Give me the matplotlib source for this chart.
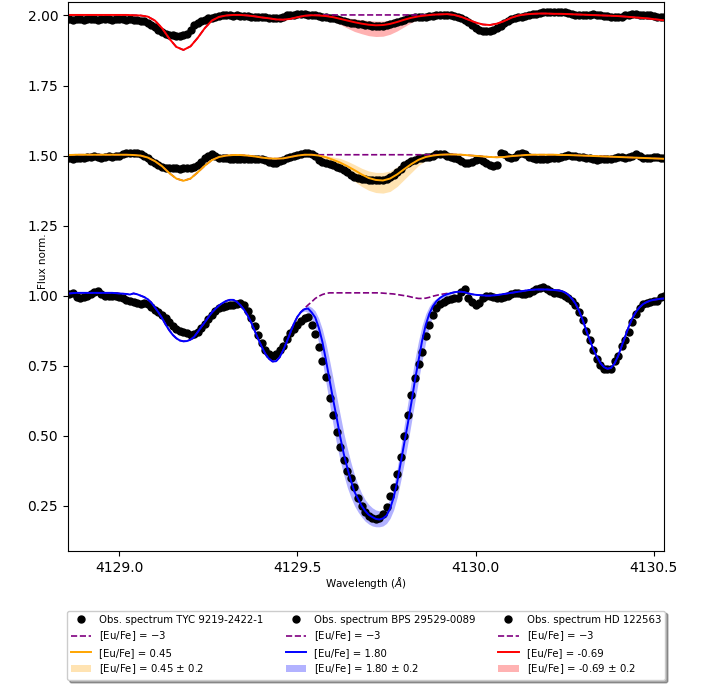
import numpy as np
import matplotlib
matplotlib.use('Agg')
import matplotlib.pyplot as plt

# wavelength grids (Angstrom)
wave_obs = np.round(4128.86 + 0.01 * np.arange(168), 2)
wave_mod = np.round(4128.86 + 0.02 * np.arange(85), 2)

# ---- BPS 29529-0089 (offset 0) ----
obs_bps = [1.005, 1.01, 0.995, 0.99, 0.995, 1.0, 1.005, 1.012, 1.015, 1.005,
           1.0, 0.998, 1.0, 1.0, 0.995, 0.99, 0.985, 0.98, 0.978, 0.975,
           0.972, 0.975, 0.97, 0.96, 0.95, 0.94, 0.93, 0.92, 0.905, 0.89,
           0.88, 0.875, 0.87, 0.865, 0.86, 0.862, 0.87, 0.885, 0.9, 0.915,
           0.93, 0.945, 0.955, 0.96, 0.962, 0.965, 0.968, 0.972, 0.975, 0.965,
           0.945, 0.92, 0.89, 0.86, 0.83, 0.805, 0.79, 0.785, 0.79, 0.805,
           0.822, 0.845, 0.865, 0.88, 0.895, 0.91, 0.922, 0.925, 0.895, 0.862,
           0.815, 0.767, 0.71, 0.635, 0.575, 0.515, 0.46, 0.415, 0.375, 0.35,
           0.317, 0.278, 0.25, 0.228, 0.215, 0.207, 0.202, 0.206, 0.22, 0.244,
           0.284, 0.318, 0.365, 0.425, 0.50, 0.575, 0.645, 0.705, 0.755, 0.80,
           0.855, 0.895, 0.932, 0.956, 0.97, 0.978, 0.984, 0.988, 0.99, 0.99,
           1.012, 1.022, 0.99, 0.978, 0.968, 0.975, 0.99, 1.0, 1.0, 0.995,
           0.99, 0.99, 0.995, 1.0, 1.005, 1.008, 1.01, 1.005, 1.005, 1.01,
           1.015, 1.022, 1.028, 1.03, 1.022, 1.015, 1.01, 1.008, 1.005, 1.0,
           0.99, 0.98, 0.965, 0.942, 0.912, 0.875, 0.84, 0.805, 0.775, 0.752,
           0.74, 0.737, 0.74, 0.765, 0.785, 0.82, 0.842, 0.872, 0.905, 0.935,
           0.955, 0.97, 0.975, 0.978, 0.98, 0.982, 0.995, 0.998]

mod_bps = [1.008, 1.009, 1.01, 1.01, 1.01, 1.01, 1.01, 1.01, 1.01, 1.01,
           1.01, 1.01, 1.01, 1.009, 1.008, 1.007, 1.006, 1.004, 1.008, 1.005,
           1.0, 0.995, 0.987, 0.975, 0.958, 0.94, 0.92, 0.897, 0.877, 0.86,
           0.848, 0.84, 0.837, 0.838, 0.843, 0.853, 0.87, 0.888, 0.905, 0.923,
           0.94, 0.953, 0.965, 0.974, 0.981, 0.985, 0.985, 0.978, 0.966, 0.95,
           0.93, 0.905, 0.875, 0.845, 0.817, 0.792, 0.775, 0.765, 0.766, 0.78,
           0.805, 0.835, 0.868, 0.9, 0.925, 0.942, 0.952, 0.954, 0.94, 0.922,
           0.885, 0.835, 0.77, 0.70, 0.63, 0.565, 0.496, 0.435, 0.385, 0.34,
           0.30, 0.275, 0.25, 0.232, 0.218, 0.21, 0.203, 0.201, 0.205, 0.215,
           0.24, 0.28, 0.335, 0.405, 0.475, 0.545, 0.62, 0.70, 0.77, 0.84,
           0.895, 0.935, 0.962, 0.98, 0.992, 1.0, 1.005, 1.009, 1.012, 1.014,
           1.014, 1.012, 1.008, 1.005, 1.003, 1.002, 1.001, 1.0, 1.0, 1.001,
           1.002, 1.004, 1.006, 1.008, 1.01, 1.012, 1.014, 1.016, 1.018, 1.02,
           1.021, 1.022, 1.022, 1.022, 1.022, 1.021, 1.02, 1.019, 1.017, 1.012,
           1.003, 0.99, 0.972, 0.947, 0.915, 0.878, 0.843, 0.81, 0.782, 0.76,
           0.745, 0.739, 0.742, 0.758, 0.785, 0.82, 0.856, 0.89, 0.92, 0.942,
           0.958, 0.97, 0.977, 0.982, 0.985, 0.987, 0.989, 0.99]

# [Eu/Fe] = -3 synthesis where it departs from the fit (obs-grid index 64..109)
noeu_bps = [0.925, 0.942, 0.955, 0.967, 0.978, 0.99, 0.998, 1.004, 1.008, 1.01,
            1.01, 1.01, 1.01, 1.01, 1.01, 1.01, 1.01, 1.01, 1.01, 1.01,
            1.01, 1.01, 1.01, 1.01, 1.009, 1.008, 1.007, 1.006, 1.004, 1.002,
            1.0, 0.998, 0.995, 0.992, 0.99, 0.99, 0.991, 0.994, 0.998, 1.001,
            1.004, 1.006, 1.008, 1.009, 1.012, 1.014]
band_bps_lo = [0.925, 0.94, 0.945, 0.94, 0.915, 0.88, 0.83, 0.765, 0.69, 0.615,
               0.54, 0.47, 0.41, 0.36, 0.315, 0.28, 0.25, 0.228, 0.21, 0.195,
               0.185, 0.178, 0.175, 0.175, 0.178, 0.187, 0.205, 0.235, 0.28, 0.34,
               0.405, 0.475, 0.55, 0.625, 0.70, 0.77, 0.835, 0.89, 0.93, 0.958,
               0.977, 0.99, 0.998, 1.005, 1.01, 1.014]
band_bps_hi = [0.925, 0.944, 0.958, 0.965, 0.958, 0.945, 0.918, 0.88, 0.83, 0.77,
               0.705, 0.64, 0.575, 0.51, 0.455, 0.405, 0.36, 0.325, 0.295, 0.272,
               0.255, 0.243, 0.235, 0.232, 0.236, 0.248, 0.275, 0.32, 0.385, 0.46,
               0.54, 0.62, 0.70, 0.775, 0.84, 0.895, 0.935, 0.962, 0.98, 0.99,
               0.998, 1.004, 1.008, 1.01, 1.012, 1.014]

# ---- TYC 9219-2422-1 (offset +0.5) ----
obs_tyc = [1.49, 1.488, 1.49, 1.492, 1.49, 1.495, 1.495, 1.497, 1.495, 1.493,
           1.495, 1.497, 1.495, 1.497, 1.5, 1.505, 1.508, 1.51, 1.508, 1.51,
           1.505, 1.5, 1.49, 1.48, 1.475, 1.465, 1.458, 1.455, 1.455, 1.457,
           1.455, 1.453, 1.455, 1.457, 1.455, 1.46, 1.468, 1.478, 1.49, 1.5,
           1.505, 1.5, 1.492, 1.49, 1.49, 1.488, 1.487, 1.487, 1.488, 1.487,
           1.487, 1.488, 1.487, 1.488, 1.487, 1.485, 1.478, 1.472, 1.475, 1.48,
           1.485, 1.492, 1.495, 1.5, 1.502, 1.505, 1.508, 1.508, 1.505, 1.5,
           1.485, 1.478, 1.473, 1.47, 1.466, 1.46, 1.455, 1.45, 1.443, 1.432,
           1.424, 1.42, 1.418, 1.416, 1.414, 1.413, 1.412, 1.412, 1.414, 1.418,
           1.424, 1.432, 1.443, 1.452, 1.465, 1.474, 1.48, 1.485, 1.49, 1.492,
           1.494, 1.496, 1.5, 1.505, 1.507, 1.505, 1.5, 1.495, 1.49, 1.488,
           1.482, 1.475, 1.472, 1.478, 1.485, 1.487, 1.48, 1.472, 1.468, 1.463,
           1.465, 1.508, 1.505, 1.495, 1.49, 1.495, 1.505, 1.51, 1.505, 1.495,
           1.49, 1.488, 1.487, 1.487, 1.488, 1.49, 1.49, 1.492, 1.496, 1.5,
           1.502, 1.5, 1.497, 1.495, 1.495, 1.492, 1.49, 1.487, 1.486, 1.487,
           1.487, 1.487, 1.488, 1.49, 1.495, 1.495, 1.492, 1.495, 1.5, 1.505,
           1.5, 1.492, 1.49, 1.492, 1.495, 1.495, 1.493, 1.493]

mod_tyc = [1.502, 1.503, 1.503, 1.503, 1.503, 1.503, 1.503, 1.503, 1.503, 1.502,
           1.5, 1.493, 1.48, 1.462, 1.438, 1.418, 1.41, 1.418, 1.44, 1.464,
           1.484, 1.495, 1.5, 1.502, 1.502, 1.5, 1.497, 1.493, 1.49, 1.489,
           1.49, 1.495, 1.5, 1.503, 1.503, 1.5, 1.494, 1.485, 1.475, 1.462,
           1.448, 1.433, 1.42, 1.413, 1.411, 1.418, 1.433, 1.452, 1.47, 1.485,
           1.495, 1.5, 1.503, 1.504, 1.504, 1.503, 1.501, 1.499, 1.497, 1.495,
           1.494, 1.495, 1.498, 1.5, 1.502, 1.503, 1.503, 1.503, 1.503, 1.502,
           1.502, 1.501, 1.5, 1.499, 1.498, 1.497, 1.496, 1.495, 1.494, 1.493,
           1.492, 1.491, 1.49, 1.489, 1.488]
# model-grid index 35..51
noeu_tyc = [1.503] * 17
# model-grid index 33..52
band_tyc_lo = [1.503, 1.5, 1.492, 1.48, 1.465, 1.448, 1.428, 1.408, 1.39, 1.376,
               1.368, 1.366, 1.372, 1.39, 1.415, 1.44, 1.465, 1.482, 1.495, 1.503]
band_tyc_hi = [1.503, 1.503, 1.503, 1.5, 1.495, 1.49, 1.48, 1.468, 1.455, 1.445,
               1.44, 1.44, 1.445, 1.46, 1.475, 1.487, 1.495, 1.5, 1.503, 1.503]

# ---- HD 122563 (offset +1.0) ----
obs_hd = [1.988, 1.985, 1.987, 1.986, 1.985, 1.987, 1.988, 1.986, 1.985, 1.986,
          1.987, 1.986, 1.985, 1.987, 1.988, 1.986, 1.985, 1.986, 1.985, 1.984,
          1.982, 1.98, 1.975, 1.965, 1.958, 1.95, 1.94, 1.935, 1.932, 1.93,
          1.928, 1.928, 1.93, 1.935, 1.95, 1.965, 1.975, 1.98, 1.983, 1.99,
          1.992, 1.995, 1.998, 2.0, 2.0, 2.0, 1.999, 2.0, 1.998, 1.998,
          1.997, 1.996, 1.995, 1.994, 1.994, 1.993, 1.992, 1.99, 1.99, 1.99,
          1.995, 2.0, 2.002, 2.003, 2.004, 2.005, 2.004, 2.003, 2.002, 2.0,
          1.998, 1.996, 1.994, 1.992, 1.99, 1.988, 1.985, 1.982, 1.978, 1.975,
          1.972, 1.97, 1.968, 1.966, 1.966, 1.964, 1.963, 1.962, 1.964, 1.966,
          1.97, 1.973, 1.977, 1.98, 1.985, 1.99, 1.992, 1.994, 1.995, 1.995,
          1.996, 1.997, 1.998, 2.0, 2.0, 2.0, 2.0, 2.0, 1.998, 1.995,
          1.99, 1.985, 1.978, 1.965, 1.954, 1.948, 1.946, 1.945, 1.946, 1.948,
          1.954, 1.962, 1.972, 1.98, 1.987, 1.99, 1.994, 1.996, 1.998, 2.0,
          2.004, 2.007, 2.01, 2.012, 2.014, 2.014, 2.013, 2.013, 2.014, 2.012,
          2.008, 2.004, 2.002, 2.0, 2.0, 2.0, 2.002, 2.004, 2.003, 2.0,
          1.998, 1.997, 1.995, 1.994, 1.994, 1.996, 2.0, 2.003, 2.004, 2.004,
          2.003, 2.002, 2.002, 2.0, 1.998, 1.996, 1.994, 1.993]

mod_hd = [2.002, 2.002, 2.002, 2.002, 2.002, 2.002, 2.002, 2.002, 2.002, 2.001,
          2.0, 1.996, 1.982, 1.955, 1.918, 1.888, 1.877, 1.89, 1.92, 1.955,
          1.982, 1.995, 2.0, 2.002, 2.002, 2.0, 1.997, 1.993, 1.99, 1.986,
          1.985, 1.988, 1.994, 1.999, 2.001, 2.0, 1.998, 1.994, 1.988, 1.982,
          1.976, 1.971, 1.967, 1.965, 1.966, 1.97, 1.977, 1.985, 1.992, 1.997,
          2.0, 2.003, 2.004, 2.005, 2.002, 1.995, 1.985, 1.975, 1.968, 1.966,
          1.971, 1.98, 1.992, 2.0, 2.004, 2.006, 2.007, 2.007, 2.006, 2.006,
          2.005, 2.004, 2.003, 2.002, 2.001, 2.0, 1.999, 1.998, 1.996, 1.994,
          1.992, 1.99, 1.987, 1.984, 1.982]
# model-grid index 35..50
noeu_hd = [2.002] * 16
# model-grid index 34..51
band_hd_lo = [2.001, 1.997, 1.99, 1.98, 1.968, 1.955, 1.943, 1.935, 1.928, 1.925,
              1.926, 1.933, 1.945, 1.96, 1.975, 1.987, 1.995, 2.002]
band_hd_hi = [2.001, 2.001, 2.0, 1.998, 1.995, 1.992, 1.988, 1.985, 1.982, 1.98,
              1.98, 1.983, 1.987, 1.991, 1.995, 1.998, 2.0, 2.003]


def with_segment(base, start, seg):
	out = np.array(base, dtype=float)
	out[start:start + len(seg)] = seg
	return out


stars = [
	dict(name='TYC 9219-2422-1', obs=obs_tyc, wave=wave_mod, mod=mod_tyc,
		 noeu=with_segment(mod_tyc, 35, noeu_tyc), b0=33, lo=band_tyc_lo, hi=band_tyc_hi,
		 color='orange', val='0.45'),
	dict(name='BPS 29529-0089', obs=obs_bps, wave=wave_obs, mod=mod_bps,
		 noeu=with_segment(mod_bps, 64, noeu_bps), b0=64, lo=band_bps_lo, hi=band_bps_hi,
		 color='blue', val='1.80'),
	dict(name='HD 122563', obs=obs_hd, wave=wave_mod, mod=mod_hd,
		 noeu=with_segment(mod_hd, 35, noeu_hd), b0=34, lo=band_hd_lo, hi=band_hd_hi,
		 color='red', val='-0.69'),
]

fig = plt.figure(figsize=(7.08, 6.84), dpi=100)
ax = fig.add_axes([0.096, 0.194, 0.842, 0.803])

for s in stars:
	ax.plot(wave_obs, s['obs'], 'o', color='black', ms=5, label='Obs. spectrum ' + s['name'])
	ax.plot(s['wave'], s['noeu'], '--', color='purple', lw=1.2, label=r'[Eu/Fe] = $-3$')
	ax.plot(s['wave'], s['mod'], '-', color=s['color'], lw=1.4, label='[Eu/Fe] = ' + s['val'])
	wb = s['wave'][s['b0']:s['b0'] + len(s['lo'])]
	ax.fill_between(wb, s['lo'], s['hi'], color=s['color'], alpha=0.3, lw=0,
					label='[Eu/Fe] = ' + s['val'] + r' $\pm$ 0.2')

ax.set_xlim(4128.856, 4130.529)
ax.set_ylim(0.0875, 2.048)
ax.set_yticks([0.25, 0.5, 0.75, 1.0, 1.25, 1.5, 1.75, 2.0])
ax.set_xticks([4129.0, 4129.5, 4130.0, 4130.5])
ax.tick_params(labelsize=10)
ax.set_xlabel(r'Wavelength ($\AA$)', fontsize=7.5, labelpad=0)
ax.set_ylabel('Flux norm.', fontsize=7.5)
ax.yaxis.set_label_coords(-0.034, 0.528)

ax.legend(loc='upper center', bbox_to_anchor=(0.5, -0.108), ncol=3, fontsize=7.3,
		  fancybox=True, shadow=True, numpoints=1, labelspacing=0.45,
		  columnspacing=2.2, handlelength=2.0, borderaxespad=0)

fig.savefig('out.png', dpi=100)
